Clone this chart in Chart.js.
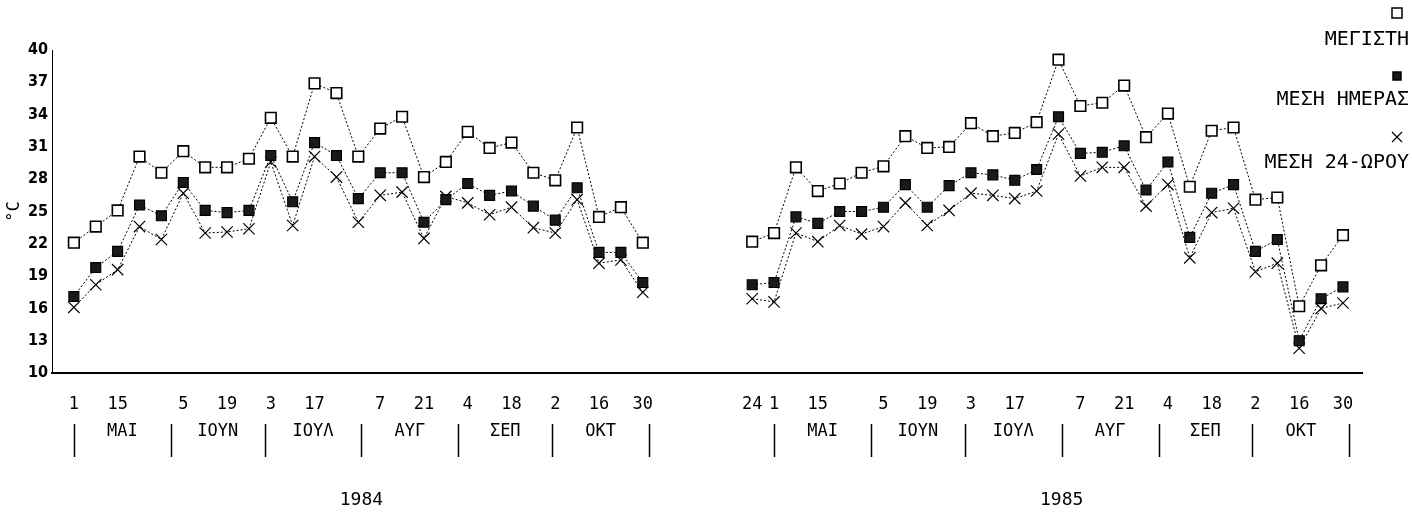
<!DOCTYPE html>
<html>
<head>
<meta charset="utf-8">
<script src="https://cdn.jsdelivr.net/npm/chart.js@4.4.1/dist/chart.umd.min.js"></script>
<style>
html,body{margin:0;padding:0;background:#fff;}
#wrap{width:1412px;height:515px;position:relative;}
</style>
</head>
<body>
<div id="wrap"><canvas id="c" width="1412" height="515"></canvas></div>
<script>
// ---------------- DATA ----------------
const weeks1984 = ['1984-05-01','1984-05-08','1984-05-15','1984-05-22','1984-05-29','1984-06-05','1984-06-12','1984-06-19','1984-06-26','1984-07-03','1984-07-10','1984-07-17','1984-07-24','1984-07-31','1984-08-07','1984-08-14','1984-08-21','1984-08-28','1984-09-04','1984-09-11','1984-09-18','1984-09-25','1984-10-02','1984-10-09','1984-10-16','1984-10-23','1984-10-30'];
const weeks1985 = ['1985-04-24','1985-05-01','1985-05-08','1985-05-15','1985-05-22','1985-05-29','1985-06-05','1985-06-12','1985-06-19','1985-06-26','1985-07-03','1985-07-10','1985-07-17','1985-07-24','1985-07-31','1985-08-07','1985-08-14','1985-08-21','1985-08-28','1985-09-04','1985-09-11','1985-09-18','1985-09-25','1985-10-02','1985-10-09','1985-10-16','1985-10-23','1985-10-30'];

const max1984 = [22.1,23.6,25.1,30.1,28.6,30.6,29.1,29.1,29.9,33.7,30.1,36.9,36.0,30.1,32.7,33.8,28.2,29.6,32.4,30.9,31.4,28.6,27.9,32.8,24.5,25.4,22.1];
const day1984 = [17.1,19.8,21.3,25.6,24.6,27.7,25.1,24.9,25.1,30.2,25.9,31.4,30.2,26.2,28.6,28.6,24.0,26.1,27.6,26.5,26.9,25.5,24.2,27.2,21.2,21.2,18.4];
const h24_1984 = [16.1,18.2,19.6,23.6,22.4,26.7,23.0,23.1,23.4,29.6,23.7,30.1,28.2,24.0,26.5,26.8,22.5,26.4,25.8,24.7,25.4,23.5,23.0,26.1,20.2,20.5,17.5];

const max1985 = [22.2,23.0,29.1,26.9,27.6,28.6,29.2,32.0,30.9,31.0,33.2,32.0,32.3,33.3,39.1,34.8,35.1,36.7,31.9,34.1,27.3,32.5,32.8,26.1,26.3,16.2,20.0,22.8];
const day1985 = [18.2,18.4,24.5,23.9,25.0,25.0,25.4,27.5,25.4,27.4,28.6,28.4,27.9,28.9,33.8,30.4,30.5,31.1,27.0,29.6,22.6,26.7,27.5,21.3,22.4,13.0,16.9,18.0];
const h24_1985 = [16.9,16.6,23.0,22.2,23.7,22.9,23.6,25.8,23.7,25.1,26.7,26.5,26.2,26.9,32.2,28.3,29.1,29.1,25.5,27.5,20.7,24.9,25.3,19.4,20.2,12.3,16.0,16.5];

const tickDays1984 = ['1984-05-01','1984-05-15','1984-06-05','1984-06-19','1984-07-03','1984-07-17','1984-08-07','1984-08-21','1984-09-04','1984-09-18','1984-10-02','1984-10-16','1984-10-30'];
const tickDays1985 = ['1985-04-24','1985-05-01','1985-05-15','1985-06-05','1985-06-19','1985-07-03','1985-07-17','1985-08-07','1985-08-21','1985-09-04','1985-09-18','1985-10-02','1985-10-16','1985-10-30'];

const monthNames = ['ΜΑΙ','ΙΟΥΝ','ΙΟΥΛ','ΑΥΓ','ΣΕΠ','ΟΚΤ'];
const monthNumbers = [5,6,7,8,9,10];
const years = ['1984','1985'];
const seriesNames = ['ΜΕΓΙΣΤΗ','ΜΕΣΗ ΗΜΕΡΑΣ','ΜΕΣΗ 24-ΩΡΟΥ'];
const yTitle = '°C';

// ---------------- HELPERS ----------------
const DAY = 86400000;
const GAP_WEEKS = 4;
const offset1985 = weeks1984.length + GAP_WEEKS;
const first84 = Date.parse(weeks1984[0]);
const first85 = Date.parse(weeks1985[0]);
function pos84(d){ return (Date.parse(d) - first84) / (7*DAY); }
function pos85(d){ return offset1985 + (Date.parse(d) - first85) / (7*DAY); }
const blocks = [
  {year: years[0], y: 1984, pos: pos84, weeks: weeks1984},
  {year: years[1], y: 1985, pos: pos85, weeks: weeks1985}
];

function series(a84, a85){
  const out = a84.map((v,i)=>({x: pos84(weeks1984[i]), y: v}));
  out.push({x: weeks1984.length + GAP_WEEKS/2, y: null});
  a85.forEach((v,i)=> out.push({x: pos85(weeks1985[i]), y: v}));
  return out;
}

const tickPos = tickDays1984.map(pos84).concat(tickDays1985.map(pos85));
const tickText = tickDays1984.concat(tickDays1985).map(d => String(parseInt(d.slice(8),10)));

const MONO = '"DejaVu Sans Mono", "Liberation Mono", monospace';

// ---------------- DECOR PLUGIN ----------------
const decor = {
  id: 'decor',
  afterDraw(chart){
    const ctx = chart.ctx, xs = chart.scales.x;
    ctx.save();
    ctx.fillStyle = '#000';
    ctx.strokeStyle = '#000';
    ctx.textAlign = 'center';
    ctx.textBaseline = 'middle';
    blocks.forEach(b => {
      const bounds = monthNumbers.map(m => Date.UTC(b.y, m-1, 1));
      bounds.push(Date.UTC(b.y, monthNumbers[monthNumbers.length-1], 1));
      const toPos = t => b.pos(new Date(t).toISOString().slice(0,10));
      const bpx = bounds.map(t => xs.getPixelForValue(toPos(t)));
      ctx.lineWidth = 1.5;
      bpx.forEach(px => {
        ctx.beginPath();
        ctx.moveTo(Math.round(px)+0.5, 424);
        ctx.lineTo(Math.round(px)+0.5, 457);
        ctx.stroke();
      });
      ctx.font = '17px ' + MONO;
      monthNames.forEach((m,i) => {
        ctx.fillText(m, (bpx[i]+bpx[i+1])/2, 432);
      });
      ctx.font = '18px ' + MONO;
      ctx.fillText(b.year, (bpx[0]+bpx[bpx.length-1])/2, 500);
    });

    // legend (marker above right-aligned text)
    const ds = chart.data.datasets;
    const rows = [{my: 13, ty: 40}, {my: 76, ty: 100}, {my: 137, ty: 163}];
    ctx.font = '20px ' + MONO;
    ctx.textAlign = 'right';
    ds.forEach((d,i) => {
      const r = rows[i];
      const mx = 1397;
      ctx.lineWidth = 1.5;
      if (d.pointStyle === 'rect') {
        const s = i === 0 ? 10 : 8;
        ctx.fillStyle = d.pointBackgroundColor;
        ctx.fillRect(mx - s/2, r.my - s/2, s, s);
        ctx.strokeRect(mx - s/2, r.my - s/2, s, s);
      } else {
        ctx.lineWidth = 1.2;
        ctx.beginPath();
        ctx.moveTo(mx-5, r.my-5); ctx.lineTo(mx+5, r.my+5);
        ctx.moveTo(mx+5, r.my-5); ctx.lineTo(mx-5, r.my+5);
        ctx.stroke();
      }
      ctx.fillStyle = '#000';
      ctx.fillText(d.label, 1409, r.ty);
    });
    ctx.restore();
  }
};

// ---------------- CHART ----------------
const lineCommon = {
  borderColor: '#000',
  borderWidth: 1,
  borderDash: [2, 2],
  pointBorderColor: '#000',
  spanGaps: false,
  tension: 0,
  fill: false
};

new Chart(document.getElementById('c'), {
  type: 'line',
  data: {
    datasets: [
      Object.assign({}, lineCommon, {
        label: seriesNames[0], data: series(max1984, max1985),
        pointStyle: 'rect', pointRadius: 7.5, pointBackgroundColor: '#fff', pointBorderWidth: 1.6
      }),
      Object.assign({}, lineCommon, {
        label: seriesNames[1], data: series(day1984, day1985),
        pointStyle: 'rect', pointRadius: 7, pointBackgroundColor: '#1a1a1a', pointBorderWidth: 1.2
      }),
      Object.assign({}, lineCommon, {
        label: seriesNames[2], data: series(h24_1984, h24_1985),
        pointStyle: 'crossRot', pointRadius: 8, pointBackgroundColor: '#000', pointBorderWidth: 1.2
      })
    ]
  },
  options: {
    responsive: false,
    animation: false,
    events: [],
    layout: { padding: { top: 50, right: 50, left: 0, bottom: 0 } },
    plugins: { legend: { display: false }, tooltip: { enabled: false } },
    scales: {
      x: {
        type: 'linear',
        min: -1,
        max: 58.87,
        afterBuildTicks: s => { s.ticks = tickPos.map(v => ({ value: v })); },
        afterFit: s => { s.height = 142; },
        grid: { display: false, drawTicks: false },
        border: { display: true, color: '#000', width: 2 },
        ticks: {
          autoSkip: false, maxRotation: 0, minRotation: 0,
          padding: 21, color: '#000',
          font: { family: MONO, size: 17 },
          callback: (v, i) => tickText[i]
        }
      },
      y: {
        min: 10,
        max: 40,
        afterFit: s => { s.width = 52; },
        grid: { display: false, drawTicks: false },
        border: { display: true, color: '#000', width: 1, dash: [2, 2] },
        ticks: {
          stepSize: 3, padding: 4, color: '#000',
          font: { family: '"Liberation Sans Narrow", "DejaVu Sans Condensed", "DejaVu Sans Mono", sans-serif', size: 16, weight: 'bold' }
        },
        title: {
          display: true, text: yTitle, color: '#000',
          font: { family: MONO, size: 17 },
          padding: { top: 4, bottom: 0 }
        }
      }
    }
  },
  plugins: [decor]
});
</script>
</body>
</html>
